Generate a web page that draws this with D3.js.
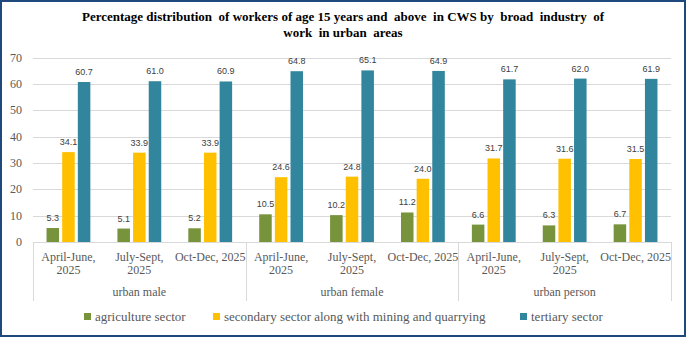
<!DOCTYPE html>
<html>
<head>
<meta charset="utf-8">
<script src="https://cdn.jsdelivr.net/npm/d3@7"></script>
<style>
  body { margin: 0; background: #fff; }
  svg { display: block; }
</style>
</head>
<body>
<div id="chart"></div>
<script>
const width = 686,
  height = 337;
const margin = { top: 57.5, right: 15, bottom: 95, left: 33 };

// categories
const groups = ["urban male", "urban female", "urban person"];
const periods = [["April-June,", "2025"], ["July-Sept,", "2025"], ["Oct-Dec, 2025"]];
const series = [
  "agriculture sector",
  "secondary sector along with mining and quarrying",
  "tertiary sector",
];
// values per series, in order male x3, female x3, person x3
const agriculture = [5.3, 5.1, 5.2, 10.5, 10.2, 11.2, 6.6, 6.3, 6.7];
const secondary = [34.1, 33.9, 33.9, 24.6, 24.8, 24.0, 31.7, 31.6, 31.5];
const tertiary = [60.7, 61.0, 60.9, 64.8, 65.1, 64.9, 61.7, 62.0, 61.9];
const yTicks = [0, 10, 20, 30, 40, 50, 60, 70];

const colors = ["#77933C", "#FFC000", "#31859C"];
const values = [agriculture, secondary, tertiary];

const cats = [];
groups.forEach((g, gi) =>
  periods.forEach((p, pi) => cats.push({ id: gi * 3 + pi, group: g, label: p }))
);

const svg = d3
  .select("#chart")
  .append("svg")
  .attr("width", width)
  .attr("height", height);

// outer border
svg
  .append("rect")
  .attr("x", 1)
  .attr("y", 1)
  .attr("width", width - 2)
  .attr("height", height - 2)
  .attr("fill", "#fff")
  .attr("stroke", "#1F497D")
  .attr("stroke-width", 2);

// title (double spaces kept as in the original)
const title = svg
  .append("text")
  .attr("text-anchor", "middle")
  .attr("font-family", "'Liberation Serif', serif")
  .attr("font-weight", "bold")
  .attr("font-size", 13)
  .attr("fill", "#000")
  .style("white-space", "pre");
title
  .append("tspan")
  .attr("x", 343)
  .attr("y", 21)
  .text("Percentage distribution  of workers of age 15 years and  above  in CWS by  broad  industry  of");
title.append("tspan").attr("x", 343).attr("y", 36.5).text("work  in urban  areas");

const x = d3
  .scaleBand()
  .domain(cats.map((d) => d.id))
  .range([margin.left, width - margin.right]);

const xSub = d3
  .scaleBand()
  .domain(d3.range(series.length))
  .range([0, x.bandwidth()])
  .paddingInner(0.2)
  .paddingOuter(0.865);

const y = d3
  .scaleLinear()
  .domain([0, 70])
  .range([height - margin.bottom, margin.top]);

// gridlines
svg
  .append("g")
  .selectAll("line")
  .data(yTicks)
  .join("line")
  .attr("x1", margin.left)
  .attr("x2", width - margin.right)
  .attr("y1", (d) => Math.round(y(d)) + 0.5)
  .attr("y2", (d) => Math.round(y(d)) + 0.5)
  .attr("stroke", "#D9D9D9")
  .attr("stroke-width", 1);

// y labels
svg
  .append("g")
  .selectAll("text")
  .data(yTicks)
  .join("text")
  .attr("x", 22)
  .attr("y", (d) => y(d) + 4)
  .attr("text-anchor", "end")
  .attr("font-family", "'Liberation Serif', serif")
  .attr("font-size", 12)
  .attr("fill", "#595959")
  .text((d) => d);

// group separators below axis
const seps = [0, 3, 6, 9];
svg
  .append("g")
  .selectAll("line")
  .data(seps)
  .join("line")
  .attr("x1", (d) => Math.round(d < 9 ? x(d) : x(8) + x.bandwidth()) + 0.5)
  .attr("x2", (d) => Math.round(d < 9 ? x(d) : x(8) + x.bandwidth()) + 0.5)
  .attr("y1", y(0))
  .attr("y2", y(0) + 59)
  .attr("stroke", "#D9D9D9");

// bars
series.forEach((s, si) => {
  const g = svg.append("g");
  g.selectAll("rect")
    .data(values[si])
    .join("rect")
    .attr("x", (d, i) => x(i) + xSub(si))
    .attr("y", (d) => y(d))
    .attr("width", xSub.bandwidth())
    .attr("height", (d) => y(0) - y(d))
    .attr("fill", colors[si]);
  g.selectAll("text")
    .data(values[si])
    .join("text")
    .attr("x", (d, i) => x(i) + xSub(si) + xSub.bandwidth() / 2)
    .attr("y", (d) => y(d) - 7)
    .attr("text-anchor", "middle")
    .attr("font-family", "'Liberation Sans', Arial, sans-serif")
    .attr("font-size", 9)
    .attr("fill", "#404040")
    .text((d) => d.toFixed(1));
});

// category labels
const catLabels = svg
  .append("g")
  .selectAll("text")
  .data(cats)
  .join("text")
  .attr("text-anchor", "middle")
  .attr("font-family", "'Liberation Serif', serif")
  .attr("font-size", 12)
  .attr("fill", "#595959");
catLabels.each(function (d) {
  const t = d3.select(this);
  d.label.forEach((line, li) => {
    t.append("tspan")
      .attr("x", x(d.id) + x.bandwidth() / 2)
      .attr("y", y(0) + 19 + li * 12.5)
      .text(line);
  });
});

// group labels
svg
  .append("g")
  .selectAll("text")
  .data(groups)
  .join("text")
  .attr("x", (d, i) => (x(i * 3) + x(i * 3 + 2) + x.bandwidth()) / 2)
  .attr("y", y(0) + 54)
  .attr("text-anchor", "middle")
  .attr("font-family", "'Liberation Serif', serif")
  .attr("font-size", 12)
  .attr("fill", "#595959")
  .text((d) => d);

// legend
const legendX = [84, 213, 520];
const legend = svg
  .append("g")
  .selectAll("g")
  .data(series)
  .join("g")
  .attr("transform", (d, i) => `translate(${legendX[i]},313)`);
legend
  .append("rect")
  .attr("width", 7)
  .attr("height", 7)
  .attr("fill", (d, i) => colors[i]);
legend
  .append("text")
  .attr("x", 11)
  .attr("y", 8)
  .attr("font-family", "'Liberation Serif', serif")
  .attr("font-size", 13)
  .attr("fill", "#595959")
  .text((d) => d);
</script>
</body>
</html>
